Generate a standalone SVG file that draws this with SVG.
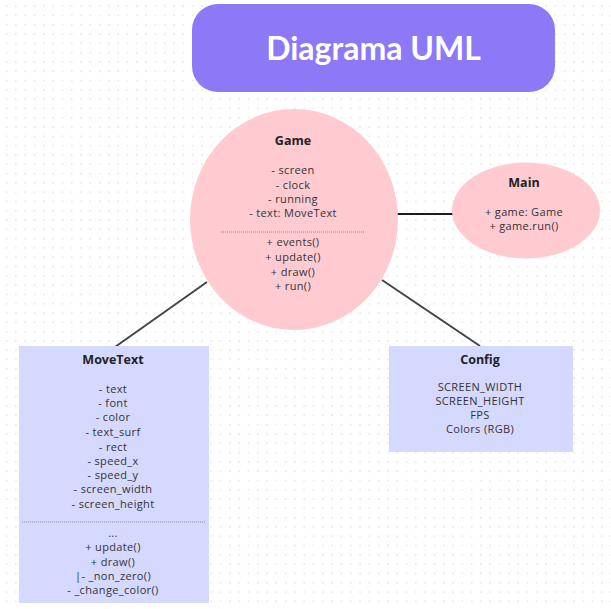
<svg xmlns="http://www.w3.org/2000/svg" width="611" height="609" viewBox="0 0 611 609">
  <defs>
    <pattern id="dots" x="2" y="1.5" width="9.3" height="9.3" patternUnits="userSpaceOnUse">
      <circle cx="4.65" cy="4.65" r="0.9" fill="#e6e6e6"/>
    </pattern>
  </defs>
  <style>
    .t { font-family: "Open Sans", "Liberation Sans", sans-serif; font-size: 11px; letter-spacing: 0.35px; fill: #333; text-anchor: middle; }
    .h { font-weight: bold; font-size: 12.5px; letter-spacing: 0; fill: #222; }
    .title { font-family: "Lato", "Liberation Sans", sans-serif; font-size: 32px; font-weight: bold; fill: #fff; text-anchor: middle; }
    .pink { fill: #ffcbd1; }
    .lav { fill: #d5d9ff; }
    .sep { stroke: #777; stroke-width: 0.8; stroke-dasharray: 1 1; }
    .conn { stroke: #444; stroke-width: 2; fill: none; }
  </style>
  <rect width="611" height="609" fill="#ffffff"/>
  <rect width="611" height="609" fill="url(#dots)"/>

  <g id="connectors">
    <line class="conn" x1="397" y1="214" x2="453" y2="214" style="stroke:#1a1a1a"/>
    <line class="conn" x1="207" y1="282" x2="115" y2="347"/>
    <line class="conn" x1="382" y1="280" x2="480" y2="346"/>
  </g>

  <g id="title">
    <rect x="192" y="4" width="363" height="88" rx="26" fill="#8d78f8"/>
    <text class="title" x="373.5" y="60">Diagrama UML</text>
  </g>

  <g id="game">
    <ellipse class="pink" cx="294" cy="219.5" rx="104" ry="110.5"/>
    <text class="t h" x="293" y="145">Game</text>
    <text class="t" x="293" y="174">- screen</text>
    <text class="t" x="293" y="189">- clock</text>
    <text class="t" x="293" y="203">- running</text>
    <text class="t" x="293" y="217">- text: MoveText</text>
    <line class="sep" x1="221" y1="232" x2="365" y2="232"/>
    <text class="t" x="293" y="246">+ events()</text>
    <text class="t" x="293" y="261">+ update()</text>
    <text class="t" x="293" y="276">+ draw()</text>
    <text class="t" x="293" y="290">+ run()</text>
  </g>

  <g id="main">
    <ellipse class="pink" cx="526" cy="210.5" rx="74" ry="48"/>
    <text class="t h" x="524" y="187">Main</text>
    <text class="t" x="524" y="215.5">+ game: Game</text>
    <text class="t" x="524" y="230">+ game.run()</text>
  </g>

  <g id="movetext">
    <rect class="lav" x="19" y="346" width="190" height="257"/>
    <text class="t h" x="113" y="364">MoveText</text>
    <text class="t" x="113" y="393">- text</text>
    <text class="t" x="113" y="407">- font</text>
    <text class="t" x="113" y="421">- color</text>
    <text class="t" x="113" y="436">- text_surf</text>
    <text class="t" x="113" y="451">- rect</text>
    <text class="t" x="113" y="465">- speed_x</text>
    <text class="t" x="113" y="479">- speed_y</text>
    <text class="t" x="113" y="493">- screen_width</text>
    <text class="t" x="113" y="508">- screen_height</text>
    <line class="sep" x1="22" y1="522" x2="205" y2="522"/>
    <text class="t" x="113" y="537">...</text>
    <text class="t" x="113" y="551">+ update()</text>
    <text class="t" x="113" y="566">+ draw()</text>
    <text class="t" x="113" y="580">|- _non_zero()</text>
    <text class="t" x="113" y="594">- _change_color()</text>
  </g>

  <g id="config">
    <rect class="lav" x="389" y="346" width="184" height="106"/>
    <text class="t h" x="480" y="364">Config</text>
    <text class="t" x="480" y="391">SCREEN_WIDTH</text>
    <text class="t" x="480" y="405">SCREEN_HEIGHT</text>
    <text class="t" x="480" y="419">FPS</text>
    <text class="t" x="480" y="433">Colors (RGB)</text>
  </g>
</svg>
